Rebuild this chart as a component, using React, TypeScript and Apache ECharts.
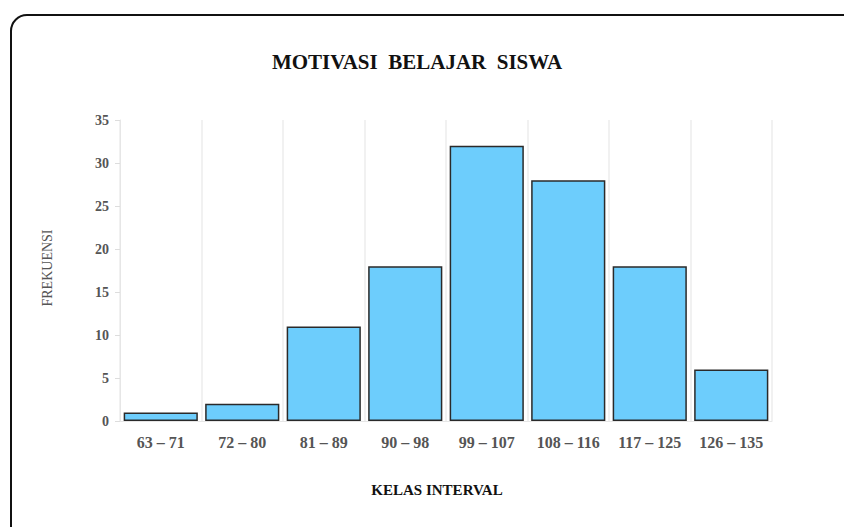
import React, { useEffect, useRef } from "react";
import * as echarts from "echarts";

const categories = ["63 – 71", "72 – 80", "81 – 89", "90 – 98", "99 – 107", "108 – 116", "117 – 125", "126 – 135"];
const frekuensi = [1, 2, 11, 18, 32, 28, 18, 6];
const yTicks = { min: 0, max: 35, interval: 5 };

const FONT = "'Liberation Serif', 'Times New Roman', serif";

export default function App() {
  const ref = useRef<HTMLDivElement>(null);
  useEffect(() => {
    if (!ref.current) return;
    const chart = echarts.init(ref.current, undefined, { renderer: "svg" });
    chart.setOption({
      animation: false,
      backgroundColor: "#ffffff",
      title: {
        text: "MOTIVASI  BELAJAR  SISWA",
        left: 412,
        top: 46,
        textAlign: "center",
        textStyle: { fontFamily: FONT, fontSize: 21, fontWeight: "bold", color: "#111" },
      },
      graphic: [
        {
          type: "rect",
          shape: { x: 11, y: 15, width: 900, height: 600, r: 16 },
          style: { fill: "none", stroke: "#111", lineWidth: 2 },
          silent: true,
        },
        {
          type: "text",
          x: 437,
          y: 490,
          style: {
            text: "KELAS INTERVAL",
            fontFamily: FONT,
            fontSize: 15,
            fontWeight: "bold",
            fill: "#111",
            align: "center",
            verticalAlign: "middle",
          },
          silent: true,
        },
        {
          type: "text",
          x: 47,
          y: 268,
          rotation: Math.PI / 2,
          style: {
            text: "FREKUENSI",
            fontFamily: FONT,
            fontSize: 14,
            fill: "#555",
            align: "center",
            verticalAlign: "middle",
          },
          silent: true,
        },
      ],
      grid: { left: 120, right: 72, top: 120, bottom: 106 },
      xAxis: {
        type: "category",
        data: categories,
        axisLine: { show: true, lineStyle: { color: "#e6e6e6" } },
        axisTick: { show: false, interval: 0 },
        axisLabel: { interval: 0, hideOverlap: false, fontFamily: FONT, fontSize: 16, fontWeight: "bold", color: "#555", margin: 13 },
        splitLine: { show: true, interval: 0, lineStyle: { color: "#ececec", width: 1.5 } },
      },
      yAxis: {
        type: "value",
        min: yTicks.min,
        max: yTicks.max,
        interval: yTicks.interval,
        axisLine: { show: true, lineStyle: { color: "#e6e6e6" } },
        axisTick: { show: true, length: 5, lineStyle: { color: "#ddd" } },
        axisLabel: { fontFamily: FONT, fontSize: 14, fontWeight: "bold", color: "#555", margin: 11 },
        splitLine: { show: false },
      },
      series: [
        {
          type: "bar",
          data: frekuensi,
          barCategoryGap: "9%",
          itemStyle: { color: "#6dcdfc", borderColor: "#2a2a2a", borderWidth: 1.5 },
        },
      ],
    });
    return () => chart.dispose();
  }, []);
  return <div ref={ref} style={{ width: 844, height: 527, position: "absolute", left: 0, top: 0 }} />;
}
